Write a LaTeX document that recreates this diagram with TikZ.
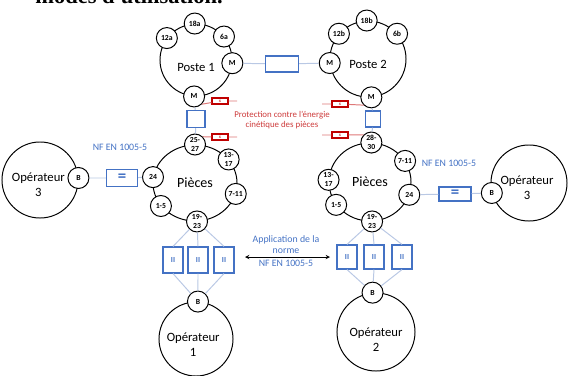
\documentclass[tikz,border=0pt]{standalone}
\usepackage{fontspec}
\setmainfont{Carlito}
\newfontfamily\titlefont{Liberation Serif}
\usepackage{tikz}
\usetikzlibrary{arrows,shapes.geometric}

\definecolor{bleu}{RGB}{68,114,196}
\definecolor{bleuclair}{RGB}{185,200,228}
\definecolor{rouge}{RGB}{192,0,0}
\definecolor{rougeclair}{RGB}{222,120,120}
\definecolor{rougetexte}{RGB}{205,60,60}

\begin{document}
\begin{tikzpicture}[x=0.025cm,y=-0.025cm]
\tikzstyle{poste}=[circle, draw=black, line width=0.7pt, inner sep=0pt]
\tikzstyle{lbl}=[font=\fontsize{9}{10.5}\selectfont, align=center]
\tikzstyle{pieces}=[ellipse, draw=black, line width=0.7pt, inner sep=0pt, font=\fontsize{10}{11}\selectfont]
\tikzstyle{small}=[circle, draw=black, fill=white, line width=0.7pt, minimum size=0.525cm, inner sep=0pt, font=\fontsize{5.5}{6.5}\selectfont\bfseries, align=center]
\tikzstyle{bluebox}=[rectangle, draw=bleu, line width=0.8pt, inner sep=0pt, text=bleu, font=\fontsize{5.5}{6}\selectfont\bfseries]
\tikzstyle{redbox}=[rectangle, draw=rouge, line width=0.8pt, minimum width=0.4cm, minimum height=0.15cm, inner sep=0pt, text=rouge, font=\fontsize{3.5}{4}\selectfont]
\tikzstyle{bluetext}=[text=bleu, font=\fontsize{7}{7.8}\selectfont, align=center]
\tikzstyle{link}=[draw=bleuclair, line width=0.7pt]
\tikzstyle{redlink}=[draw=rougeclair, line width=0.7pt]
\tikzstyle{arrow}=[thin,<->,>=stealth]

\clip (0,0) rectangle (568,376);

%title
\node (titre) [anchor=base west, inner sep=0pt, font=\titlefont\bfseries\fontsize{16}{18}\selectfont] at (35,3) {modes d'utilisation.};

%poste 1
\node (p1) [poste, minimum size=1.8cm, label={[lbl,yshift=-0.19cm]center:Poste 1}] at (196,60) {};
\node (a18) [small] at (p1.92) {18a};
\node (a12) [small] at (p1.143) {12a};
\node (a6) [small] at (p1.40) {6a};
\node (m1r) [small] at (p1.-5) {M};
\node (m1b) [small] at (p1.-93) {M};

%poste 2
\node (p2) [poste, minimum size=1.9cm, label={[lbl,yshift=-0.125cm]center:Poste 2}] at (368,59) {};
\node (b18) [small] at (p2.92) {18b};
\node (b12) [small] at (p2.139) {12b};
\node (b6) [small] at (p2.41) {6b};
\node (m2l) [small] at (p2.186) {M};
\node (m2b) [small] at (p2.-85) {M};

%pieces gauche
\node (pg) [pieces, minimum width=2.1cm, minimum height=1.9cm] at (195,183) {Pièces};
\node (g2527) [small] at (pg.90) {25-\\27};
\node (g1317) [small] at (pg.35) {13-\\17};
\node (g711) [small] at (pg.-15) {7-11};
\node (g1923) [small] at (pg.-87) {19-\\23};
\node (g15) [small] at (pg.214) {1-5};
\node (g24) [small] at (pg.172) {24};

%pieces droite
\node (pd) [pieces, minimum width=2.05cm, minimum height=1.95cm] at (370,182) {Pièces};
\node (d2830) [small] at (pd.88) {28-\\30};
\node (d711) [small] at (pd.31) {7-11};
\node (d24) [small] at (pd.-18) {24};
\node (d1923) [small] at (pd.-87) {19-\\23};
\node (d15) [small] at (pd.214) {1-5};
\node (d1317) [small] at (pd.177) {13-\\17};

%operateurs
\node (op3g) [poste, minimum size=1.9cm, label={[lbl,yshift=-0.125cm,xshift=-0.04cm]center:Opérateur\\3}] at (40,180) {};
\node (bg) [small] at (op3g.3) {B};
\node (op3d) [poste, minimum size=1.9cm, label={[lbl,yshift=-0.125cm,xshift=-0.05cm]center:Opérateur\\3}] at (529,183) {};
\node (bd) [small] at (op3d.195) {B};
\node (op1) [poste, minimum size=1.85cm, label={[lbl,yshift=-0.15cm,xshift=-0.07cm]center:Opérateur\\1}] at (196,339) {};
\node (b1) [small] at (op1.87) {B};
\node (op2) [poste, minimum size=1.95cm, label={[lbl,yshift=-0.2cm]center:Opérateur\\2}] at (376,332) {};
\node (b2) [small] at (op2.95) {B};

%blue boxes
\node (haut) [bluebox, minimum width=0.825cm, minimum height=0.4cm] at (282,64) {};
\node (cg) [bluebox, minimum width=0.45cm, minimum height=0.425cm] at (196,119) {};
\node (cd) [bluebox, minimum width=0.375cm, minimum height=0.4cm] at (373,119) {};
\node (eqg) [bluebox, minimum width=0.775cm, minimum height=0.425cm, font=\fontsize{12}{12}\selectfont\bfseries] at (122,178) {=};
\node (eqd) [bluebox, minimum width=0.8cm, minimum height=0.35cm, font=\fontsize{12}{12}\selectfont\bfseries] at (455,194) {=};
\node (ig1) [bluebox, minimum width=0.5cm, minimum height=0.65cm] at (173,260) {II};
\node (ig2) [bluebox, minimum width=0.5cm, minimum height=0.65cm] at (198,260) {II};
\node (ig3) [bluebox, minimum width=0.5cm, minimum height=0.65cm] at (224,260) {II};
\node (id1) [bluebox, minimum width=0.5cm, minimum height=0.6cm] at (347,257) {II};
\node (id2) [bluebox, minimum width=0.5cm, minimum height=0.6cm] at (374,257) {II};
\node (id3) [bluebox, minimum width=0.5cm, minimum height=0.6cm] at (402,257) {II};

%red boxes
\node (x1) [redbox] at (220,101) {x};
\node (x2) [redbox] at (220,137) {x};
\node (x3) [redbox] at (340,104) {x};
\node (x4) [redbox] at (340,135) {x};
\coordinate (x1e) at (237,101);
\coordinate (x2e) at (237,137);
\coordinate (x3e) at (322,104);
\coordinate (x4e) at (322,135);

%texts
\node (prot) [text=rougetexte, font=\fontsize{6.3}{7.4}\selectfont, align=center] at (282,120) {Protection contre l'énergie\\cinétique des pièces};
\node (nfg) [bluetext] at (120,147) {NF EN 1005-5};
\node (nfd) [bluetext] at (449,163) {NF EN 1005-5};
\node (app) [bluetext] at (286,245) {Application de la\\norme};
\node (nfm) [bluetext] at (286,263) {NF EN 1005-5};
\coordinate (al) at (245,257);
\coordinate (ar) at (330,257);

%lines
\draw [link] (m1r) -- (haut) -- (m2l);
\draw [link] (m1b) -- (cg) -- (g2527);
\draw [link] (m2b) -- (cd) -- (d2830);
\draw [link] (bg) -- (eqg) -- (g24);
\draw [link] (d24) -- (eqd) -- (bd);
\foreach \b in {ig1,ig2,ig3}
  \draw [link] (g1923) -- (\b.north) (\b.south) -- (b1);
\foreach \b in {id1,id2,id3}
  \draw [link] (d1923) -- (\b.north) (\b.south) -- (b2);
\draw [redlink] (m1b.-45) -- (x1) -- (x1e);
\draw [redlink] (g2527.45) -- (x2) -- (x2e);
\draw [redlink] (x3e) -- (x3) -- (m2b.225);
\draw [redlink] (x4e) -- (x4) -- (d2830.135);
\draw [arrow] (al) -- (ar);
\end{tikzpicture}
\end{document}
